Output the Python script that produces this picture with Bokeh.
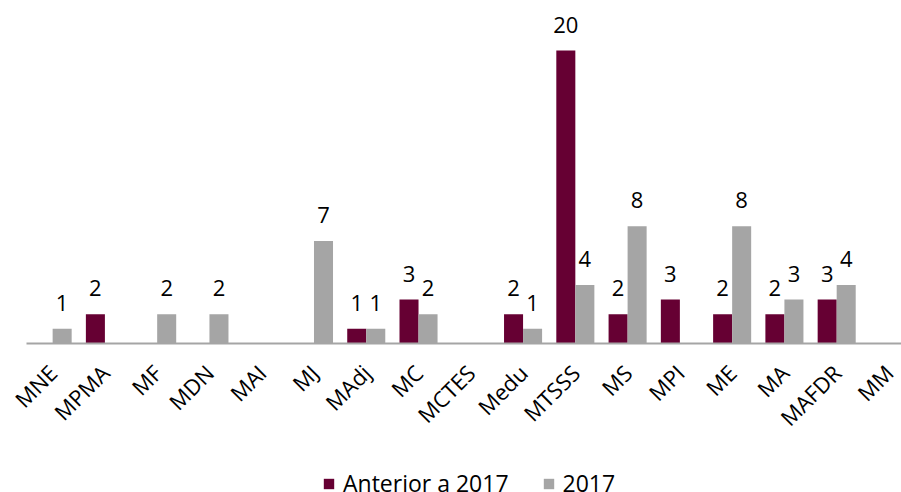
from bokeh.plotting import figure
from bokeh.layouts import column
from bokeh.models import ColumnDataSource, Legend, LegendItem, Range1d, FixedTicker
from bokeh.transform import dodge
from bokeh.core.properties import value
from bokeh.embed import file_html
from bokeh.resources import INLINE
import math

categories = ["MNE", "MPMA", "MF", "MDN", "MAI", "MJ", "MAdj", "MC", "MCTES",
              "Medu", "MTSSS", "MS", "MPI", "ME", "MA", "MAFDR", "MM"]
anterior = [0, 2, 0, 0, 0, 0, 1, 3, 0, 2, 20, 2, 3, 2, 2, 3, 0]
ano2017 = [1, 0, 2, 2, 0, 7, 1, 2, 0, 1, 4, 8, 0, 8, 3, 4, 0]
series_names = ["Anterior a 2017", "2017"]

FONT = "Open Sans"
C_ANT = "#660033"
C_2017 = "#A5A5A5"

pos = list(range(len(categories)))
src = ColumnDataSource(dict(x=pos, cat=categories, ant=anterior, a17=ano2017))
ant_lbl = ColumnDataSource(dict(
    x=[i for i, v in zip(pos, anterior) if v > 0],
    y=[v for v in anterior if v > 0],
    t=[str(v) for v in anterior if v > 0]))
a17_lbl = ColumnDataSource(dict(
    x=[i for i, v in zip(pos, ano2017) if v > 0],
    y=[v for v in ano2017 if v > 0],
    t=[str(v) for v in ano2017 if v > 0]))

# category pitch ~52.3px; the right end of the original plot area is cut by the window
p = figure(x_range=Range1d(-0.5, -0.5 + 875 / 52.27),
           y_range=Range1d(0, 343 / 14.65), frame_width=875, frame_height=343,
           output_backend="svg", toolbar_location=None,
           min_border_left=26, min_border_right=0, min_border_top=0,
           min_border_bottom=100)
p.outline_line_color = None
p.xgrid.visible = False
p.ygrid.visible = False
p.yaxis.visible = False

bw = 0.364
r1 = p.vbar(x=dodge("x", -bw / 2), top="ant", width=bw,
            source=src, fill_color=C_ANT, line_color=None)
r2 = p.vbar(x=dodge("x", bw / 2), top="a17", width=bw,
            source=src, fill_color=C_2017, line_color=None)

for s, off in ((ant_lbl, -bw / 2), (a17_lbl, bw / 2)):
    p.text(x=dodge("x", off), y="y", text="t", source=s,
           text_align="center", text_baseline="alphabetic", y_offset=-26,
           text_font=value(FONT), text_font_size="22px", text_color="#000000")

ax = p.xaxis[0]
ax.ticker = FixedTicker(ticks=pos)
ax.major_label_overrides = {i: c for i, c in zip(pos, categories)}
ax.axis_line_color = "#A5A5A5"
ax.axis_line_width = 2
ax.major_tick_line_color = None
ax.minor_tick_line_color = None
ax.major_tick_out = 0
ax.major_tick_in = 0
ax.major_label_orientation = math.pi / 4
ax.major_label_text_font = FONT
ax.major_label_text_font_size = "22px"
ax.major_label_text_color = "#000000"
ax.major_label_standoff = 25

# legend strip below the chart; proxy renderers share the data but are drawn
# with zero width and zero height, so only their legend swatches are seen
lf = figure(width=901, height=49, x_range=Range1d(0, 1), y_range=Range1d(0, 1),
            output_backend="svg", toolbar_location=None,
            x_axis_location=None, y_axis_location=None,
            min_border_left=0, min_border_right=0, min_border_top=0,
            min_border_bottom=0)
lf.outline_line_color = None
lf.xgrid.visible = False
lf.ygrid.visible = False
d1 = lf.vbar(x="x", top="ant", bottom="ant", width=0, source=src,
             fill_color=C_ANT, line_color=None)
d2 = lf.vbar(x="x", top="a17", bottom="a17", width=0, source=src,
             fill_color=C_2017, line_color=None)
legend = Legend(items=[LegendItem(label=series_names[0], renderers=[d1]),
                       LegendItem(label=series_names[1], renderers=[d2])],
                orientation="horizontal", location=(296, -5),
                label_text_font=FONT, label_text_font_size="23px",
                label_text_color="#000000",
                glyph_width=13, glyph_height=13, label_standoff=8,
                spacing=33, padding=0, margin=0,
                border_line_color=None, background_fill_alpha=0)
lf.add_layout(legend, "center")

open("out.html", "w").write(file_html(column(p, lf, spacing=0), INLINE))
